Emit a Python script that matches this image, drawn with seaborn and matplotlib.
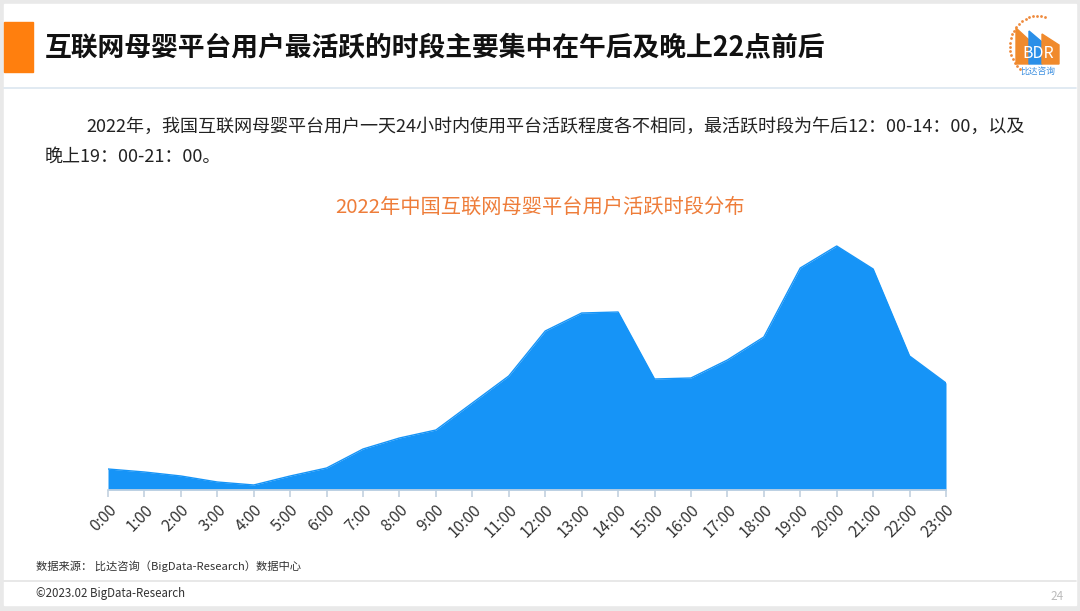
import numpy as np
import pandas as pd
import matplotlib
matplotlib.use('Agg')
import matplotlib.pyplot as plt
import matplotlib.patches as mpatches
import seaborn as sns

hours = [f"{h}:00" for h in range(24)]
activity = [21, 18, 14, 8, 5, 14, 22, 41, 52, 60, 87, 114,
            159, 177, 178, 111, 112, 130, 153, 222, 244, 221, 134, 107]

title = "互联网母婴平台用户最活跃的时段主要集中在午后及晚上22点前后"
para_1 = "2022年，我国互联网母婴平台用户一天24小时内使用平台活跃程度各不相同，最活跃时段为午后12：00-14：00，以及"
para_2 = "晚上19：00-21：00。"
chart_title = "2022年中国互联网母婴平台用户活跃时段分布"
source = "数据来源： 比达咨询（BigData-Research）数据中心"
copyright_txt = "©2023.02 BigData-Research"
page_no = "24"

sns.set_theme(style='white')
plt.rcParams['font.family'] = ['Noto Sans CJK SC', 'DejaVu Sans']

W, H = 1080, 611
fig = plt.figure(figsize=(W / 100, H / 100), dpi=100)
fig.patch.set_facecolor('#e9e9e9')

# slide background and decorations, in pixel coords
bg = fig.add_axes([0, 0, 1, 1])
bg.set_xlim(0, W)
bg.set_ylim(H, 0)
bg.axis('off')
bg.add_patch(mpatches.Rectangle((4, 4), W - 8, H - 10, color='white', zorder=0))
bg.add_patch(mpatches.Rectangle((4, 22), 29, 50, color='#ff7f0e', zorder=1))
bg.plot([4, W - 4], [88, 88], color='#dbe6f0', lw=1.2)
bg.plot([4, W - 4], [581, 581], color='#e4e4e4', lw=1.2)
bg.text(45, 48, title, fontsize=19.3, fontweight='bold', color='#111111', va='center')
bg.text(86, 127, para_1, fontsize=13.0, color='#222222', va='center')
bg.text(45, 157, para_2, fontsize=13.0, color='#222222', va='center')
bg.text(540, 207, chart_title, fontsize=14.6, color='#ee7d3a', ha='center', va='center')
bg.text(36, 566, source, fontsize=8.1, color='#333333', va='center')
bg.text(36, 593, copyright_txt, fontsize=8.3, color='#333333', va='center')
bg.text(1057, 596, page_no, fontsize=8.5, color='#bbbbbb', ha='center', va='center')

# logo
ang = np.linspace(np.pi * 0.42, np.pi * 1.28, 20)
bg.scatter(1038 + 28 * np.cos(ang), 46 - 30 * np.sin(ang), s=4, color='#ee8a3c', marker='o', lw=0)
bg.add_patch(mpatches.Polygon([[1016, 64], [1016, 28], [1029, 40], [1029, 64]], color='#f08a2c'))
bg.add_patch(mpatches.Polygon([[1029, 64], [1029, 31], [1042, 42], [1042, 64]], color='#2a8fe8'))
bg.add_patch(mpatches.Polygon([[1042, 64], [1042, 34], [1059, 45], [1059, 64]], color='#f08a2c'))
bg.text(1038, 54, "BDR", fontsize=11.5, color='white', ha='center', va='center')
bg.text(1038, 71, "比达咨询", fontsize=6.3, color='#3a8ee0', ha='center', va='center')

# area chart
df = pd.DataFrame({'hour': hours, 'activity': activity})
x0, x1, yb, yt = 108, 946, 490, 240
ax = fig.add_axes([x0 / W, 1 - yb / H, (x1 - x0) / W, (yb - yt) / H])
xs = np.arange(len(hours))
ax.fill_between(xs, 0, df['activity'], color='#1694f7', lw=0)
sns.lineplot(x=xs, y=df['activity'], ax=ax, color='#1694f7', lw=1)
ax.set_xlim(0, len(hours) - 1)
ax.set_ylim(0, 250)
ax.set_xticks(xs)
ax.set_xticklabels(hours, rotation=45, ha='right', rotation_mode='anchor', fontsize=11.2, color='#333333')
ax.set_yticks([])
ax.set_xlabel('')
ax.set_ylabel('')
for s in ['top', 'right', 'left']:
    ax.spines[s].set_visible(False)
ax.spines['bottom'].set_color('#c5d3e0')
ax.tick_params(axis='x', bottom=True, length=5, color='#c5d3e0', pad=3)
ax.patch.set_alpha(0)

fig.savefig('out.png', dpi=100, facecolor=fig.get_facecolor())
